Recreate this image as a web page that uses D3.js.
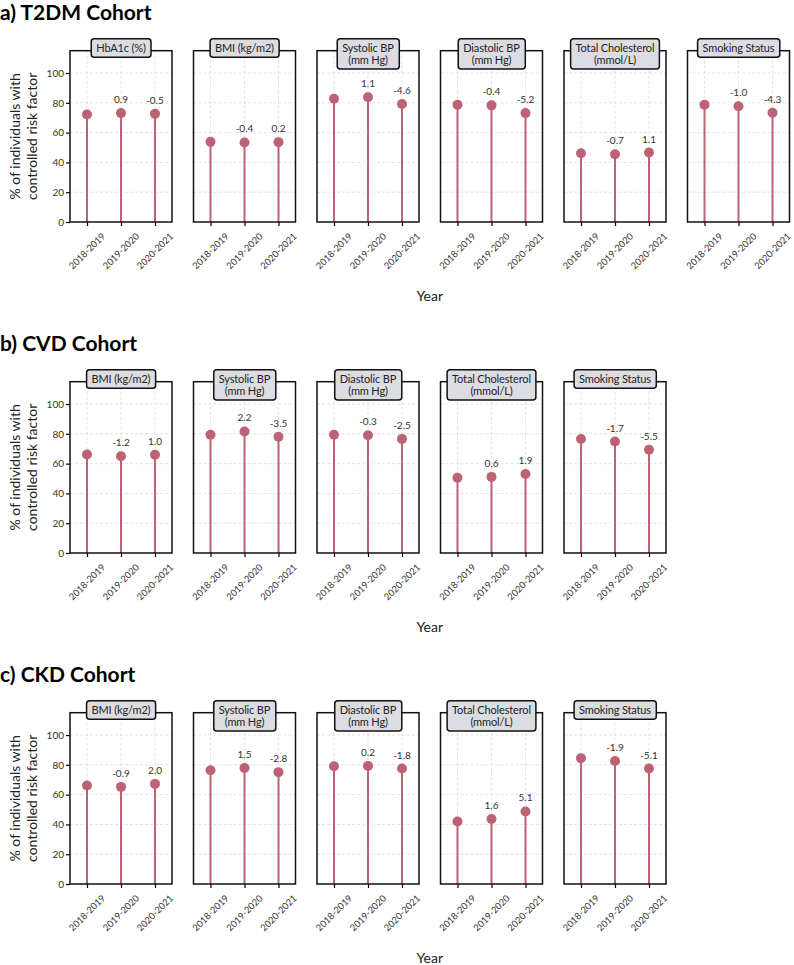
<!DOCTYPE html>
<html>
<head>
<meta charset="utf-8">
<script src="https://cdn.jsdelivr.net/npm/d3@7"></script>
<style>
  body { margin: 0; background: #fff; }
  svg { font-family: Lato, "Noto Sans", sans-serif; }
</style>
</head>
<body>
<div id="chart"></div>
<script>
// Data
var years = ["2018-2019", "2019-2020", "2020-2021"];
var yTicks = [0, 20, 40, 60, 80, 100];

var t2dmFactors = ["HbA1c (%)", "BMI (kg/m2)", "Systolic BP|(mm Hg)", "Diastolic BP|(mm Hg)", "Total Cholesterol|(mmol/L)", "Smoking Status"];
var t2dmValues = [[72.2, 73.1, 72.6], [53.8, 53.4, 53.6], [82.7, 83.8, 79.2], [78.7, 78.3, 73.1], [46.2, 45.5, 46.6], [78.7, 77.7, 73.4]];
var t2dmChanges = [[0.9, -0.5], [-0.4, 0.2], [1.1, -4.6], [-0.4, -5.2], [-0.7, 1.1], [-1.0, -4.3]];

var cvdFactors = ["BMI (kg/m2)", "Systolic BP|(mm Hg)", "Diastolic BP|(mm Hg)", "Total Cholesterol|(mmol/L)", "Smoking Status"];
var cvdValues = [[66.1, 64.9, 65.9], [79.4, 81.6, 78.1], [79.4, 79.1, 76.6], [50.5, 51.1, 53.0], [76.5, 74.8, 69.3]];
var cvdChanges = [[-1.2, 1.0], [2.2, -3.5], [-0.3, -2.5], [0.6, 1.9], [-1.7, -5.5]];

var ckdFactors = ["BMI (kg/m2)", "Systolic BP|(mm Hg)", "Diastolic BP|(mm Hg)", "Total Cholesterol|(mmol/L)", "Smoking Status"];
var ckdValues = [[66.1, 65.2, 67.2], [76.4, 77.9, 75.1], [79.1, 79.3, 77.5], [42.0, 43.6, 48.7], [84.5, 82.6, 77.5]];
var ckdChanges = [[-0.9, 2.0], [1.5, -2.8], [0.2, -1.8], [1.6, 5.1], [-1.9, -5.1]];

var cohorts = [
  {title: "a) T2DM Cohort", factors: t2dmFactors, values: t2dmValues, changes: t2dmChanges},
  {title: "b) CVD Cohort", factors: cvdFactors, values: cvdValues, changes: cvdChanges},
  {title: "c) CKD Cohort", factors: ckdFactors, values: ckdValues, changes: ckdChanges}
];

// layout
var W = 794, H = 965;
var left = 70, panelW = 102, panelStep = 123.5, panelH = 171.3;
var rowTop = 50.7, rowStep = 331;
var lollipop = "#bd6274";
// plain hyphen for negatives, like the original
var fmt = function(v) { return d3.format(".1f")(v).replace("\u2212", "-"); };

var svg = d3.select("#chart").append("svg")
  .attr("width", W).attr("height", H);

var x = d3.scalePoint().domain(years).range([0, panelW]).padding(0.5);
var y = d3.scaleLinear().domain([0, 115]).range([panelH, 0]);

cohorts.forEach(function(c, ci) {
  var top = rowTop + ci * rowStep;

  svg.append("text")
    .attr("x", 0).attr("y", top - 30.7)
    .attr("font-size", 21).attr("font-weight", "bold")
    .attr("fill", "#000")
    .text(c.title);

  // y axis title
  var yl = svg.append("text")
    .attr("transform", "translate(23," + (top + panelH / 2) + ") rotate(-90)")
    .attr("text-anchor", "middle")
    .attr("font-size", 14).attr("fill", "#222");
  yl.append("tspan").attr("x", 0).attr("dy", "-0.25em").text("% of individuals with");
  yl.append("tspan").attr("x", 0).attr("dy", "1.25em").text("controlled risk factor");

  svg.append("text")
    .attr("x", left + (5 * panelStep + panelW) / 2)
    .attr("y", top + 250)
    .attr("text-anchor", "middle")
    .attr("font-size", 14).attr("fill", "#222")
    .text("Year");

  c.factors.forEach(function(f, fi) {
    var g = svg.append("g")
      .attr("transform", "translate(" + (left + fi * panelStep) + "," + top + ")");

    // grid
    g.append("g").selectAll("line.h")
      .data(yTicks.slice(1)).enter().append("line")
      .attr("x1", 0).attr("x2", panelW)
      .attr("y1", function(d) { return y(d); })
      .attr("y2", function(d) { return y(d); })
      .attr("stroke", "#dcdcdc").attr("stroke-width", 0.8)
      .attr("stroke-dasharray", "3,2");
    g.append("g").selectAll("line.v")
      .data(years).enter().append("line")
      .attr("x1", function(d) { return x(d); })
      .attr("x2", function(d) { return x(d); })
      .attr("y1", 0).attr("y2", panelH)
      .attr("stroke", "#dcdcdc").attr("stroke-width", 0.8)
      .attr("stroke-dasharray", "3,2");

    // y axis only on first panel
    if (fi === 0) {
      var ya = g.append("g")
        .call(d3.axisLeft(y).tickValues(yTicks).tickSize(4).tickPadding(2));
      ya.select(".domain").remove();
      ya.selectAll("line").attr("stroke", "#000").attr("stroke-width", 1.2);
      ya.selectAll("text").attr("font-size", 10).attr("fill", "#333")
        .attr("font-family", "Lato, 'Noto Sans', sans-serif");
    }

    // x axis
    var xa = g.append("g")
      .attr("transform", "translate(0," + panelH + ")")
      .call(d3.axisBottom(x).tickSize(4).tickFormat(""));
    xa.select(".domain").remove();
    xa.selectAll("line").attr("stroke", "#000").attr("stroke-width", 1.2);

    g.append("g").selectAll("text")
      .data(years).enter().append("text")
      .attr("transform", function(d) { return "translate(" + x(d) + "," + (panelH + 29) + ") rotate(-45)"; })
      .attr("text-anchor", "middle")
      .attr("dy", "0.35em")
      .attr("font-size", 9.3).attr("fill", "#333")
      .text(function(d) { return d; });

    // stems and markers
    var vals = c.values[fi];
    g.append("g").selectAll("line")
      .data(vals).enter().append("line")
      .attr("x1", function(d, i) { return x(years[i]); })
      .attr("x2", function(d, i) { return x(years[i]); })
      .attr("y1", y(0))
      .attr("y2", function(d) { return y(d); })
      .attr("stroke", lollipop).attr("stroke-width", 2);
    g.append("g").selectAll("circle")
      .data(vals).enter().append("circle")
      .attr("cx", function(d, i) { return x(years[i]); })
      .attr("cy", function(d) { return y(d); })
      .attr("r", 5)
      .attr("fill", lollipop);

    // change labels for 2nd and 3rd years
    g.append("g").selectAll("text")
      .data(c.changes[fi]).enter().append("text")
      .attr("x", function(d, i) { return x(years[i + 1]); })
      .attr("y", function(d, i) { return y(vals[i + 1]) - 10; })
      .attr("text-anchor", "middle")
      .attr("font-size", 10).attr("fill", "#333")
      .text(function(d) { return fmt(d); });

    // frame
    g.append("rect")
      .attr("width", panelW).attr("height", panelH)
      .attr("fill", "none").attr("stroke", "#111").attr("stroke-width", 1.5);

    // header box
    var lines = f.split("|");
    var base0 = 1.3, lineH = 11.6;
    var hg = g.append("g");
    var ht = hg.append("text")
      .attr("text-anchor", "middle")
      .attr("font-size", 11).attr("letter-spacing", -0.15)
      .attr("fill", "#222");
    lines.forEach(function(l, li) {
      ht.append("tspan").attr("x", panelW / 2)
        .attr("y", base0 + li * lineH)
        .text(l);
    });
    var bb = ht.node().getBBox();
    var by0 = base0 - 13.3, by1 = base0 + (lines.length - 1) * lineH + 5.3;
    hg.insert("rect", "text")
      .attr("x", bb.x - 5).attr("y", by0)
      .attr("width", bb.width + 10).attr("height", by1 - by0)
      .attr("rx", 3)
      .attr("fill", "#dcdde3").attr("stroke", "#111").attr("stroke-width", 1.5);
  });
});
</script>
</body>
</html>
